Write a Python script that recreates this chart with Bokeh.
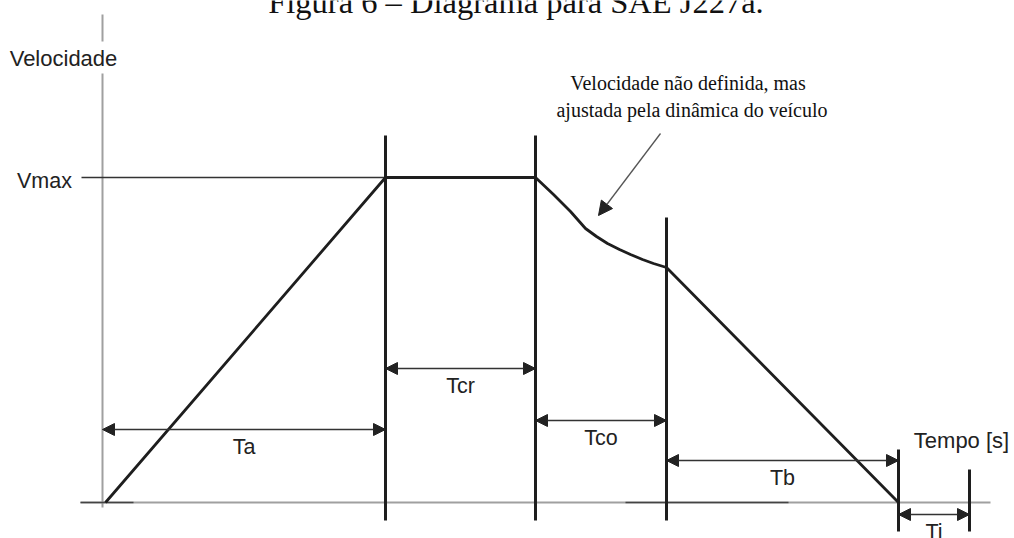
from bokeh.plotting import figure
from bokeh.models import Range1d, Arrow, NormalHead
from bokeh.core.properties import value
from bokeh.embed import file_html
from bokeh.resources import INLINE

# ---------------- data (time / speed in diagram units) ----------------
title_text = "Figura 6 – Diagrama para SAE J227a."
phase_labels = ["Ta", "Tcr", "Tco", "Tb", "Ti"]
phase_edges = [0, 283, 433, 564, 796, 867]
v_max = 325
profile_t = [3, 283, 433, 451, 468, 483, 494, 505, 517, 528, 540, 551, 564, 796]
profile_v = [0, 325, 325, 308, 291, 274, 266, 259, 253, 248, 243, 239, 235, 0]
y_label = "Velocidade"
vmax_label = "Vmax"
x_label = "Tempo [s]"
note_lines = ["Velocidade não definida, mas", "ajustada pela dinâmica do veículo"]

# ---------------- layout constants ----------------
DARK = "#1e1e1e"
GREY = "#a0a0a0"
SANS = value("Liberation Sans")
SERIF = value("Liberation Serif")

p = figure(width=1014, height=538, output_backend="svg", toolbar_location=None,
           x_range=Range1d(-102, 912), y_range=Range1d(-36, 502),
           x_axis_type=None, y_axis_type=None, min_border=0)
p.grid.visible = False
p.outline_line_color = None
p.background_fill_color = "white"

# axes (drawn as plain lines)
p.line([0, 0], [-5, 429], line_color=GREY, line_width=2)
p.line([0, 0], [461, 488], line_color=GREY, line_width=2)
p.line([-22, phase_edges[-1] + 21], [0, 0], line_color=GREY, line_width=2)
p.line([-22, 31], [0, 0], line_color="#444", line_width=1.5)
p.line([523, 686], [0, 0], line_color="#444", line_width=1.5)

# Vmax reference line
p.line([-21, phase_edges[1]], [v_max, v_max], line_color="#333", line_width=1.3)

# phase boundary lines
tops = [367, 367, 285, 53, 33]
bottoms = [-18, -18, -18, -29, -29]
for e, t, b in zip(phase_edges[1:], tops, bottoms):
    p.line([e, e], [b, t], line_color=DARK, line_width=3)

# speed profile
p.line(profile_t, profile_v, line_color=DARK, line_width=2.8)

# dimension arrows
levels = [73, 134, 82, 42, -12]
for i, lab in enumerate(phase_labels):
    x0, x1 = phase_edges[i], phase_edges[i + 1]
    y = levels[i]
    p.add_layout(Arrow(x_start=x0, y_start=y, x_end=x1, y_end=y,
                       line_color="#333", line_width=1.5,
                       start=NormalHead(size=12, fill_color="#222", line_color="#222", line_width=1),
                       end=NormalHead(size=12, fill_color="#222", line_color="#222", line_width=1)))
p.text(x=[(phase_edges[i] + phase_edges[i + 1]) / 2 for i in range(5)],
       y=[l - 17.5 for l in levels], text=phase_labels,
       text_font=SANS, text_font_size="21.5px", text_color="#222",
       text_align="center", text_baseline="middle")

# axis labels
p.text(x=[-39], y=[444], text=[y_label], text_font=SANS, text_font_size="22px",
       text_color="#222", text_align="center", text_baseline="middle")
p.text(x=[-58], y=[322], text=[vmax_label], text_font=SANS, text_font_size="21.5px",
       text_color="#222", text_align="center", text_baseline="middle")
p.text(x=[859], y=[62], text=[x_label], text_font=SANS, text_font_size="22px",
       text_color="#222", text_align="center", text_baseline="middle")

# note with arrow
p.text(x=[585.5, 589.5], y=[420, 393], text=note_lines, text_font=SERIF,
       text_font_size="20px", text_color="#111", text_align="center",
       text_baseline="alphabetic")
p.add_layout(Arrow(x_start=558, y_start=369, x_end=496, y_end=287,
                   line_color="#555", line_width=1.3,
                   end=NormalHead(size=14, fill_color="#222", line_color="#222", line_width=1)))

# title (top cut off as in the source page)
p.text(x=[413.5], y=[501], text=[title_text], text_font=SERIF,
       text_font_size="32.5px", text_color="#111", text_align="center",
       text_baseline="alphabetic")

open("out.html", "w").write(file_html(p, INLINE))
